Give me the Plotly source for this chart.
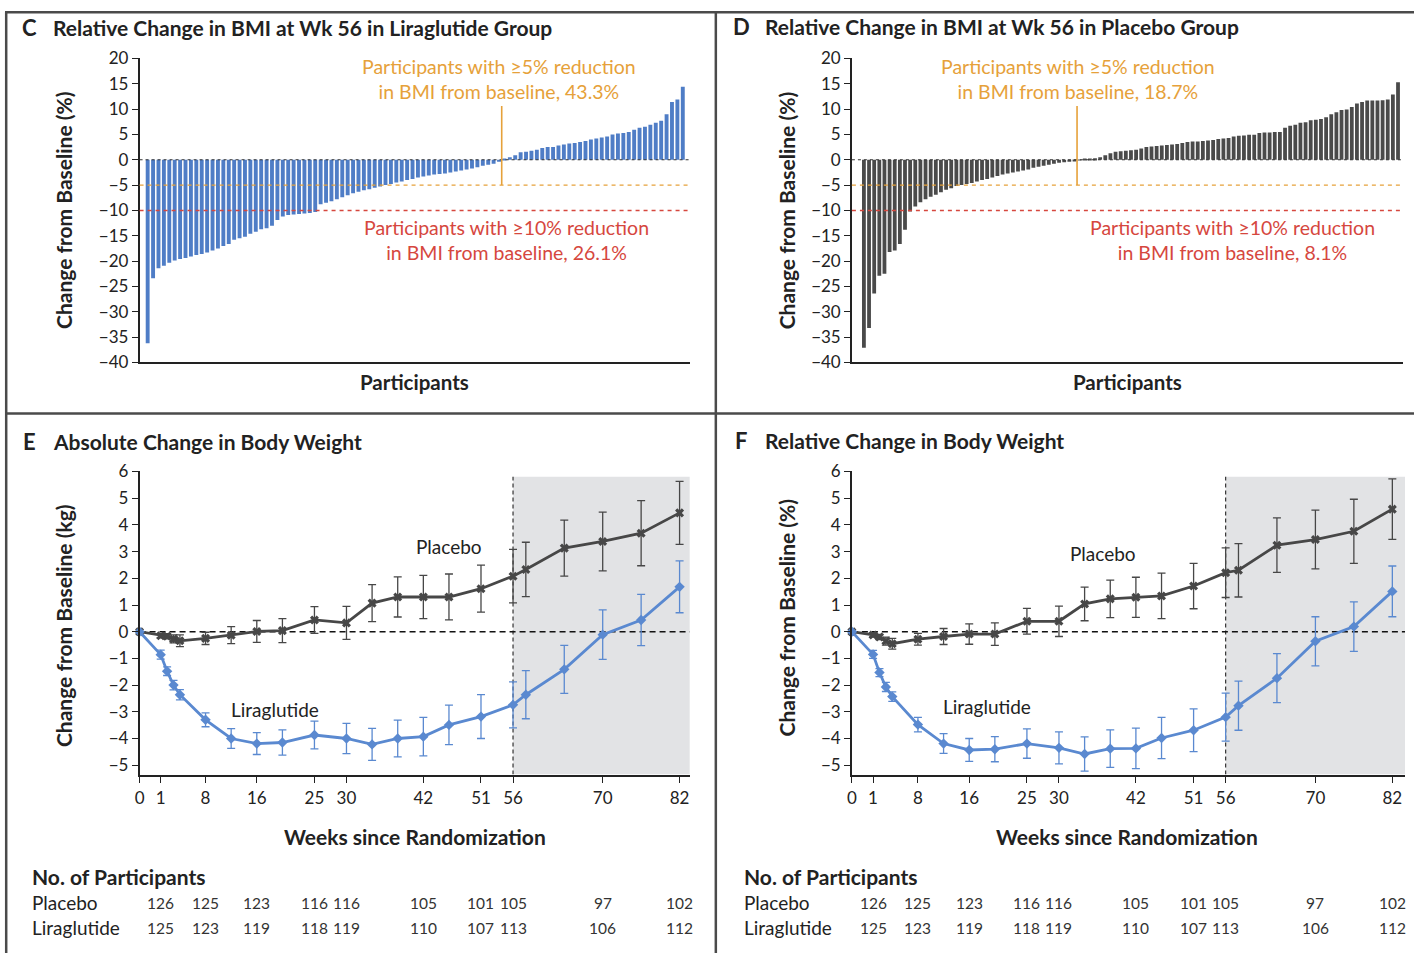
import plotly.graph_objects as go

W, H = 1414, 963
FONT = "Lato"

# Calibration of reference-pixel positions to figure pixels (observed offset/scale of
# the rendered page relative to the screenshot).
OX, SX = 5.5, 0.996
OY, SY = 10.6, 0.978

# ---------------- DATA ----------------
# Panel C: relative change in BMI at week 56, liraglutide group (sorted, %)
lira_bmi_pct = [
    -36.2, -23.4, -21.4, -20.9, -20.3, -19.9, -19.6, -19.4, -19.1, -18.8,
    -18.6, -18.3, -17.9, -17.5, -17.0, -16.6, -15.8, -15.5, -15.2, -14.6,
    -14.2, -13.7, -13.5, -13.0, -11.9, -11.2, -10.9, -10.8, -10.7, -10.6,
    -10.5, -10.3, -8.8, -8.5, -8.2, -7.8, -7.4, -7.0, -6.6, -6.3,
    -6.0, -5.8, -5.5, -5.3, -5.0, -4.8, -4.5, -4.3, -4.0, -3.8,
    -3.5, -3.3, -3.1, -2.9, -2.8, -2.7, -2.5, -2.3, -2.1, -1.9,
    -1.7, -1.5, -1.2, -1.0, -0.8, -0.4,
    0.2, 0.5, 0.9, 1.5, 1.6, 1.8, 2.0, 2.3, 2.5, 2.5,
    2.8, 3.0, 3.2, 3.3, 3.5, 3.7, 4.0, 4.2, 4.4, 4.6,
    5.0, 5.2, 5.3, 5.5, 5.9, 6.3, 6.5, 6.9, 7.3, 7.7,
    9.0, 11.4, 11.9, 14.4,
]

# Panel D: relative change in BMI at week 56, placebo group (sorted, %)
placebo_bmi_pct = [
    -37.1, -33.2, -26.4, -22.9, -22.5, -18.2, -17.9, -16.6, -13.8, -10.2,
    -9.2, -8.4, -7.8, -7.3, -6.9, -6.4, -5.9, -5.6, -5.2, -5.0,
    -4.8, -4.6, -4.3, -4.0, -3.8, -3.5, -3.2, -2.9, -2.7, -2.5,
    -2.3, -2.1, -1.9, -1.6, -1.4, -1.2, -1.0, -0.8, -0.6, -0.5,
    -0.4, -0.3,
    0.05, 0.1, 0.15, 0.3,
    0.5, 0.9, 1.3, 1.6, 1.7, 1.8, 1.9, 2.0, 2.2, 2.5,
    2.6, 2.7, 2.8, 2.9, 3.0, 3.1, 3.3, 3.5, 3.6, 3.6,
    3.7, 3.8, 3.9,
    4.1, 4.2, 4.3, 4.6, 4.75, 4.8, 4.95, 4.95, 5.3, 5.4,
    5.4, 5.5, 5.5, 6.3, 6.7, 6.9, 7.3, 7.4, 7.8, 7.9,
    8.05, 8.4, 9.0, 9.4, 9.8, 9.9, 10.4, 11.1, 11.4, 11.7,
    11.7, 11.7, 11.75, 11.9, 12.9, 15.3,
]

# Panels E and F: weeks of assessment
weeks = [0, 1, 2, 3, 4, 8, 12, 16, 20, 25, 30, 34, 38, 42, 46, 51, 56, 58, 64, 70, 76, 82]

# Panel E: absolute change in body weight (kg) with error (half-width of bar)
e_lira = [0, -0.86, -1.48, -2.0, -2.36, -3.3, -4.0, -4.19, -4.15, -3.87, -4.0,
          -4.22, -4.0, -3.93, -3.49, -3.18, -2.74, -2.36, -1.41, -0.11, 0.44, 1.68]
e_lira_err = [None, 0.17, 0.16, 0.18, 0.19, 0.26, 0.37, 0.41, 0.47, 0.52, 0.57,
              0.6, 0.69, 0.72, 0.74, 0.82, 0.86, 0.9, 0.9, 0.93, 0.96, 0.97]
e_plac = [0, -0.15, -0.17, -0.27, -0.34, -0.25, -0.13, 0.01, 0.04, 0.44, 0.33,
          1.07, 1.3, 1.3, 1.3, 1.61, 2.08, 2.33, 3.13, 3.38, 3.69, 4.45]
e_plac_err = [None, 0.08, 0.1, 0.15, 0.22, 0.23, 0.32, 0.41, 0.45, 0.5, 0.62,
              0.69, 0.75, 0.81, 0.86, 0.88, 1.0, 1.02, 1.05, 1.1, 1.22, 1.18]

# Panel F: relative change in body weight (%)
f_lira = [0, -0.85, -1.53, -2.07, -2.43, -3.48, -4.19, -4.43, -4.4, -4.19, -4.35,
          -4.58, -4.38, -4.37, -3.98, -3.69, -3.2, -2.77, -1.74, -0.36, 0.19, 1.51]
f_lira_err = [None, 0.15, 0.15, 0.17, 0.18, 0.27, 0.37, 0.43, 0.47, 0.55, 0.6,
              0.64, 0.7, 0.76, 0.77, 0.8, 0.9, 0.92, 0.92, 0.92, 0.93, 0.95]
f_plac = [0, -0.12, -0.2, -0.35, -0.45, -0.28, -0.18, -0.09, -0.09, 0.39, 0.39,
          1.04, 1.23, 1.29, 1.34, 1.71, 2.21, 2.3, 3.24, 3.45, 3.76, 4.59]
f_plac_err = [None, 0.08, 0.1, 0.15, 0.2, 0.22, 0.3, 0.38, 0.42, 0.48, 0.57,
              0.63, 0.7, 0.75, 0.85, 0.85, 0.93, 1.0, 1.02, 1.1, 1.2, 1.13]

week_ticks = [0, 1, 8, 16, 25, 30, 42, 51, 56, 70, 82]

# Number of participants table
count_weeks = [1, 8, 16, 25, 30, 42, 51, 56, 70, 82]
n_placebo = [126, 125, 123, 116, 116, 105, 101, 105, 97, 102]
n_lira = [125, 123, 119, 118, 119, 110, 107, 113, 106, 112]

# ---------------- STYLE ----------------
BLUE_BAR = "#4F7DC6"
BLUE_LINE = "#5A89D0"
GRAY_BAR = "#4A4A4A"
GRAY_LINE = "#474747"
ORANGE = "#E6A13A"
RED = "#D6473E"
TXT = "#222222"
SHADE = "#E2E3E5"

BASE_POS = -2.3  # week 0 is drawn slightly apart from week 1 on the time axis


def xpos(w):
    return BASE_POS if w == 0 else w


def X(px):
    return min(max(((px - OX) / SX) / W, 0.0), 1.0)


def Y(py):
    return min(max(1 - ((py - OY) / SY) / H, 0.0), 1.0)


fig = go.Figure()

# Bars C & D
fig.add_trace(go.Bar(x=list(range(len(lira_bmi_pct))), y=lira_bmi_pct, width=0.72,
                     marker=dict(color=BLUE_BAR, line=dict(width=0)),
                     xaxis="x", yaxis="y", showlegend=False))
fig.add_trace(go.Bar(x=list(range(len(placebo_bmi_pct))), y=placebo_bmi_pct, width=0.74,
                     marker=dict(color=GRAY_BAR, line=dict(width=0)),
                     xaxis="x2", yaxis="y2", showlegend=False))


def series(xs, ys, err, color, symbol, size, xa, ya):
    return go.Scatter(
        x=[xpos(w) for w in xs], y=ys, mode="lines+markers",
        line=dict(color=color, width=2.8),
        marker=dict(symbol=symbol, size=size, color=color),
        error_y=dict(type="data", array=err, visible=True, color=color,
                     thickness=1.3, width=4),
        xaxis=xa, yaxis=ya, showlegend=False, cliponaxis=False)


fig.add_trace(series(weeks, e_plac, e_plac_err, GRAY_LINE, "x", 8, "x3", "y3"))
fig.add_trace(series(weeks, e_lira, e_lira_err, BLUE_LINE, "diamond", 8, "x3", "y3"))
fig.add_trace(series(weeks, f_plac, f_plac_err, GRAY_LINE, "x", 8, "x4", "y4"))
fig.add_trace(series(weeks, f_lira, f_lira_err, BLUE_LINE, "diamond", 8, "x4", "y4"))

tickfont = dict(family=FONT, size=17, color=TXT)
ax = dict(showline=True, linecolor=TXT, linewidth=1.5, showgrid=False, zeroline=False,
          tickfont=tickfont, tickcolor=TXT, tickwidth=1.3)

E_RANGE = [BASE_POS, 83.6]
F_RANGE = [BASE_POS, 84.0]
Y_LINE_RANGE = [-5.35, 6]

fig.update_layout(
    width=W, height=H, autosize=False, margin=dict(l=0, r=0, t=0, b=0),
    paper_bgcolor="white", plot_bgcolor="rgba(0,0,0,0)",
    font=dict(family=FONT, color=TXT),
    barmode="overlay",
    xaxis=dict(ax, domain=[X(140), X(690)], range=[-1.5, len(lira_bmi_pct) - 1 + 1.3],
               anchor="y", ticks="", showticklabels=False),
    yaxis=dict(ax, domain=[Y(362), Y(58)], range=[-40, 20], dtick=5, anchor="x",
               ticks="outside", ticklen=6),
    xaxis2=dict(ax, domain=[X(852), X(1403)], range=[-2.34, len(placebo_bmi_pct) - 1 + 1.0],
                anchor="y2", ticks="", showticklabels=False),
    yaxis2=dict(ax, domain=[Y(362), Y(58)], range=[-40, 20], dtick=5, anchor="x2",
                ticks="outside", ticklen=6),
    xaxis3=dict(ax, domain=[X(140), X(690)], range=E_RANGE, anchor="y3",
                tickvals=[xpos(t) for t in week_ticks], ticktext=[str(t) for t in week_ticks],
                ticks="outside", ticklen=7),
    yaxis3=dict(ax, domain=[Y(774), Y(471)], range=Y_LINE_RANGE, dtick=1, anchor="x3",
                ticks="outside", ticklen=6),
    xaxis4=dict(ax, domain=[X(852), X(1405)], range=F_RANGE, anchor="y4",
                tickvals=[xpos(t) for t in week_ticks], ticktext=[str(t) for t in week_ticks],
                ticks="outside", ticklen=7),
    yaxis4=dict(ax, domain=[Y(774), Y(471)], range=Y_LINE_RANGE, dtick=1, anchor="x4",
                ticks="outside", ticklen=6),
)

shapes = []
# Frame lines
FRAME = "#4a4a4a"
TOP = 1 - 1.2 / H
LEFT = 1.2 / W
shapes += [
    dict(type="line", xref="paper", yref="paper", x0=0, x1=1, y0=TOP, y1=TOP,
         line=dict(color=FRAME, width=2.5)),
    dict(type="line", xref="paper", yref="paper", x0=LEFT, x1=LEFT, y0=0, y1=TOP,
         line=dict(color=FRAME, width=2.5)),
    dict(type="line", xref="paper", yref="paper", x0=X(716), x1=X(716), y0=0, y1=TOP,
         line=dict(color=FRAME, width=2.5)),
    dict(type="line", xref="paper", yref="paper", x0=0, x1=1, y0=Y(413), y1=Y(413),
         line=dict(color=FRAME, width=2.5)),
]

# Waterfall reference lines
for xa, ya, vals in (("x", "y", lira_bmi_pct), ("x2", "y2", placebo_bmi_pct)):
    shapes += [
        dict(type="line", xref=xa + " domain", yref=ya, x0=0, x1=1, y0=0, y1=0,
             line=dict(color="#333333", width=1.2, dash="3px,3px"), layer="above"),
        dict(type="line", xref=xa + " domain", yref=ya, x0=0, x1=1, y0=-5, y1=-5,
             line=dict(color=ORANGE, width=1.4, dash="4px,4px"), layer="above"),
        dict(type="line", xref=xa + " domain", yref=ya, x0=0, x1=1, y0=-10, y1=-10,
             line=dict(color=RED, width=1.4, dash="4px,4px"), layer="above"),
    ]
    first_nonneg = next(i for i, v in enumerate(vals) if v >= 0)
    shapes.append(dict(type="line", xref=xa, yref=ya, x0=first_nonneg - 0.5, x1=first_nonneg - 0.5,
                       y0=-5, y1=10.6, line=dict(color=ORANGE, width=1.6), layer="above"))

# Time-course panels: shaded follow-up period, dashed markers
for xa, ya, rng in (("x3", "y3", E_RANGE), ("x4", "y4", F_RANGE)):
    shapes += [
        dict(type="rect", xref=xa, yref=ya, x0=56, x1=rng[1], y0=Y_LINE_RANGE[0], y1=5.8,
             fillcolor=SHADE, line=dict(width=0), layer="below"),
        dict(type="line", xref=xa, yref=ya, x0=56, x1=56, y0=Y_LINE_RANGE[0], y1=5.8,
             line=dict(color="#333333", width=1.2, dash="4px,3px"), layer="below"),
        dict(type="line", xref=xa, yref=ya, x0=rng[0], x1=rng[1], y0=0, y1=0,
             line=dict(color="#111111", width=1.5, dash="6px,4px"), layer="below"),
    ]
fig.update_layout(shapes=shapes)

ann = []


def text(t, x, y, size, bold=False, color=TXT, xanchor="left", yanchor="middle", angle=0, **kw):
    if bold:
        t = "<b>" + t + "</b>"
    ann.append(dict(text=t, x=x, y=y, xref=kw.pop("xref", "paper"), yref=kw.pop("yref", "paper"),
                    showarrow=False, xanchor=xanchor, yanchor=yanchor, textangle=angle,
                    font=dict(family=FONT, size=size, color=color), **kw))


# Panel titles
for letter, title, lx, tx, y in (("C", "Relative Change in BMI at Wk 56 in Liraglutide Group", 20, 51, 27),
                                 ("D", "Relative Change in BMI at Wk 56 in Placebo Group", 731, 763, 26),
                                 ("E", "Absolute Change in Body Weight", 21, 51, 441),
                                 ("F", "Relative Change in Body Weight", 733, 763, 440)):
    text(letter, X(lx), Y(y), 22, bold=True)
    text(title, X(tx), Y(y), 21, bold=True)

# Axis titles
text("Change from Baseline (%)", X(64), Y(210), 21, bold=True, xanchor="center", angle=-90)
text("Change from Baseline (%)", X(787), Y(210), 21, bold=True, xanchor="center", angle=-90)
text("Change from Baseline (kg)", X(64), Y(625), 21, bold=True, xanchor="center", angle=-90)
text("Change from Baseline (%)", X(787), Y(617), 21, bold=True, xanchor="center", angle=-90)
text("Participants", X(415), Y(382), 20.5, bold=True, xanchor="center")
text("Participants", X(1127), Y(382), 20.5, bold=True, xanchor="center")
text("Weeks since Randomization", X(415), Y(836), 21, bold=True, xanchor="center")
text("Weeks since Randomization", X(1127), Y(836), 21, bold=True, xanchor="center")

# Threshold annotations
text("Participants with ≥5% reduction<br>in BMI from baseline, 43.3%", X(499), Y(79), 19.5,
     color=ORANGE, xanchor="center")
text("Participants with ≥10% reduction<br>in BMI from baseline, 26.1%", X(507), Y(240), 19.5,
     color=RED, xanchor="center")
text("Participants with ≥5% reduction<br>in BMI from baseline, 18.7%", X(1078), Y(79), 19.5,
     color=ORANGE, xanchor="center")
text("Participants with ≥10% reduction<br>in BMI from baseline, 8.1%", X(1232), Y(240), 19.5,
     color=RED, xanchor="center")

# Series labels
text("Placebo", 46, 3.2, 19, xanchor="center", xref="x3", yref="y3")
text("Liraglutide", 18.8, -2.92, 19, xanchor="center", xref="x3", yref="y3")
text("Placebo", 36.9, 2.92, 19, xanchor="center", xref="x4", yref="y4")
text("Liraglutide", 18.8, -2.81, 19, xanchor="center", xref="x4", yref="y4")

# Participant tables
for xa, x0 in (("x3", 30), ("x4", 742)):
    text("No. of Participants", X(x0), Y(876), 21, bold=True)
    text("Placebo", X(x0), Y(902), 19)
    text("Liraglutide", X(x0), Y(927), 19)
    for w, a, b in zip(count_weeks, n_placebo, n_lira):
        text(str(a), xpos(w), Y(902), 15.5, color="#333333", xanchor="center", xref=xa, yref="paper")
        text(str(b), xpos(w), Y(927), 15.5, color="#333333", xanchor="center", xref=xa, yref="paper")

fig.update_layout(annotations=ann)
fig.write_html("out.html")
